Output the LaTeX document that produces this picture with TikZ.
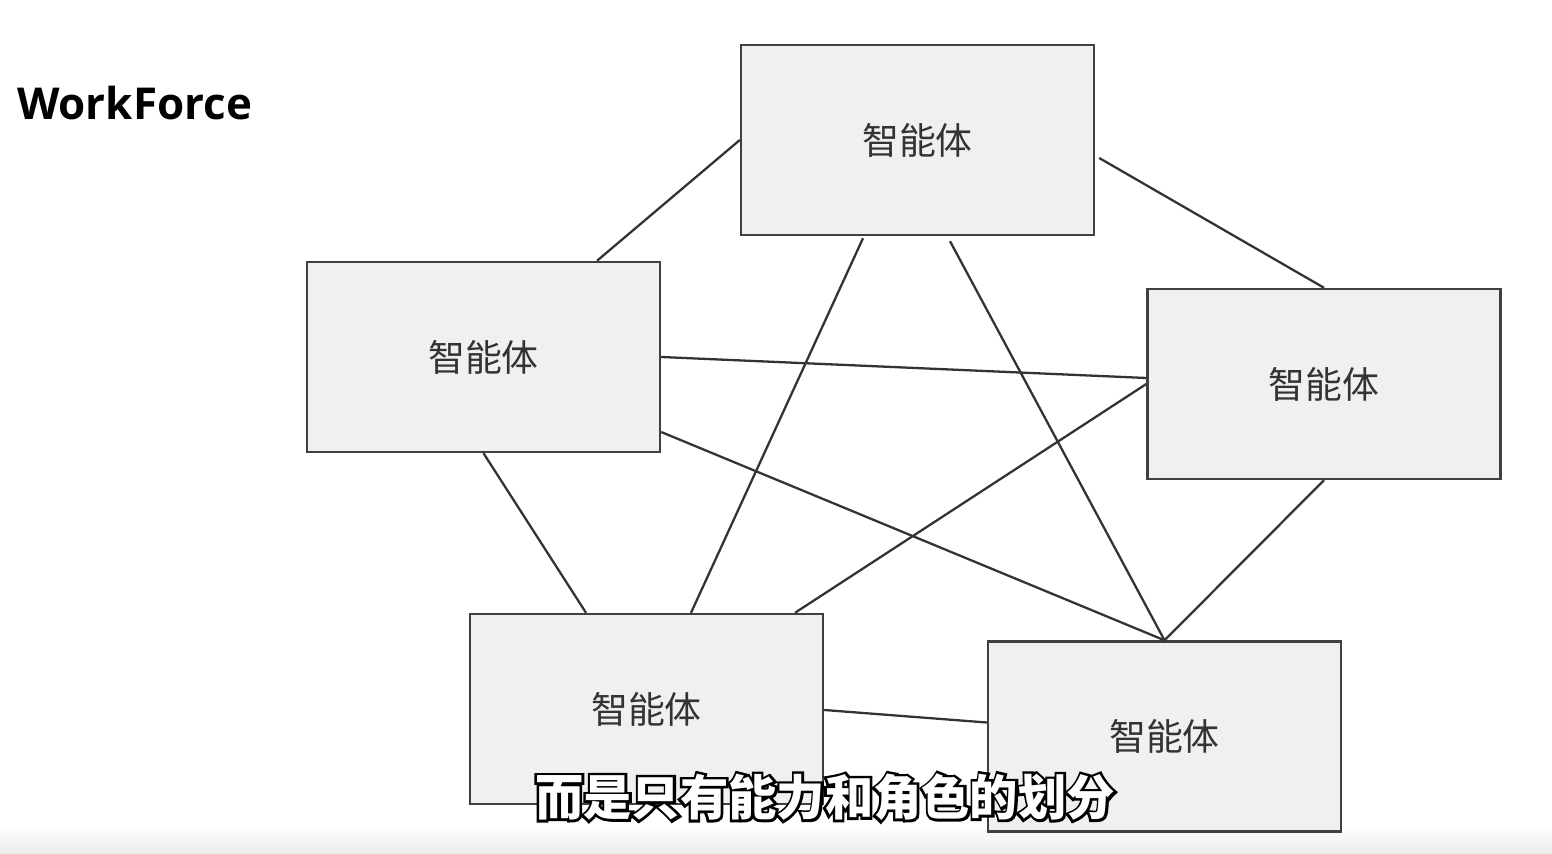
\documentclass[tikz,border=0pt]{standalone}
\usepackage{fontspec}
\usetikzlibrary{calc}
\newfontfamily\cjk{Noto Sans CJK SC}
\newfontfamily\cjkedge[FakeBold=12]{Noto Sans CJK SC Bold}
\newfontfamily\titlefont{Open Sans}
\definecolor{boxfill}{HTML}{F0F0F0}
\definecolor{boxline}{HTML}{404040}

\begin{document}
\begin{tikzpicture}[x=0.02cm,y=-0.02cm,
	agent/.style={draw=boxline,fill=boxfill,line width=1.4pt,minimum width=7.06cm,minimum height=3.8cm,inner sep=0,font=\cjk\fontsize{21}{25}\selectfont,text=black!80},
	link/.style={draw=black!80,line width=1.3pt}]
	\useasboundingbox (0,0) rectangle (1552,854);
	\shade[top color=white,bottom color=black!8] (0,826) rectangle (1552,854);
	\node[anchor=west,font=\titlefont\bfseries\fontsize{25}{30}\selectfont] (title) at (11,103) {WorkForce};
	\node[agent] (t) at (917.5,140) {智能体};
	\node[agent] (l) at (483.5,357) {智能体};
	\node[agent] (r) at (1324,384) {智能体};
	\node[agent] (bl) at (646.5,709) {智能体};
	\node[agent] (br) at (1164.5,736.5) {智能体};
	\draw[link] (t.west) -- ($(l.north)+(113.5,0)$);
	\draw[link] ($(t.east)+(4,18)$) -- (r.north);
	\draw[link] ($(t.south)+(-54.5,2)$) -- ($(bl.north)+(44.5,0)$);
	\draw[link] ($(t.south)+(32.5,5)$) -- (br.north);
	\draw[link] (l.east) -- ($(r.west)+(0,-6)$);
	\draw[link] ($(l.east)+(0,75)$) -- (br.north);
	\draw[link] (l.south) -- ($(bl.north)+(-60.5,0)$);
	\draw[link] (r.west) -- ($(bl.north)+(148.5,0)$);
	\draw[link] (r.south) -- (br.north);
	\draw[link] ($(bl.east)+(0,1)$) -- ($(br.west)+(0,-14)$);
	% subtitle: black outline under white text
	\node[font=\cjkedge\fontsize{27.5}{32}\selectfont,text=black] (subedge) at (825,797) {而是只有能力和角色的划分};
	\node[font=\cjk\bfseries\fontsize{27.5}{32}\selectfont,text=white] (sub) at (subedge.center) {而是只有能力和角色的划分};
\end{tikzpicture}
\end{document}
